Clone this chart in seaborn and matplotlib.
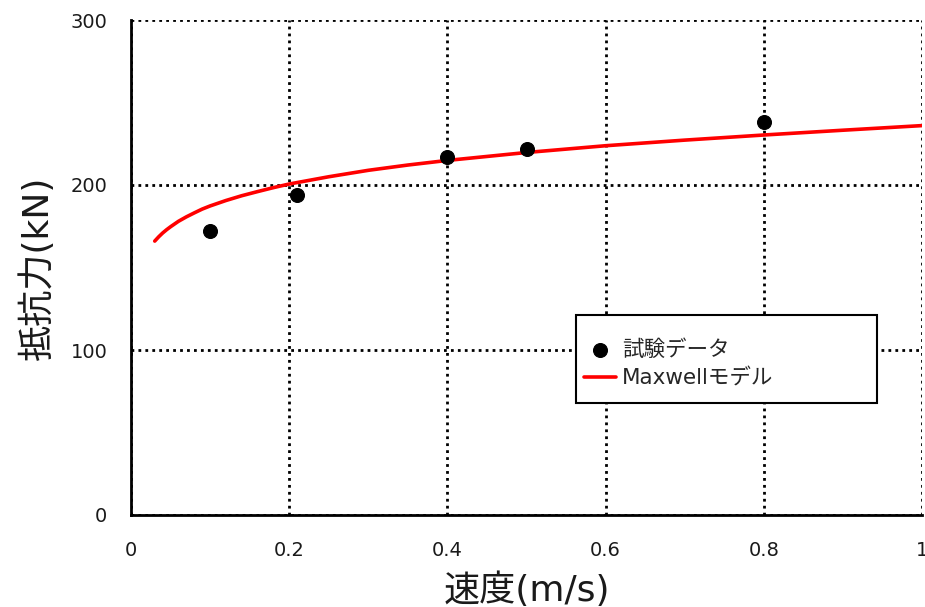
import matplotlib
matplotlib.use("Agg")
import matplotlib.pyplot as plt
from matplotlib.patches import Rectangle
import seaborn as sns
import pandas as pd

# Test data (試験データ)
test_speed = [0.1, 0.21, 0.4, 0.5, 0.8]
test_force = [172, 194, 217, 222, 238]

# Maxwell model curve
model_speed = [0.03, 0.035, 0.04, 0.045, 0.05, 0.06, 0.07, 0.08, 0.09, 0.1, 0.12, 0.14,
               0.16, 0.18, 0.2, 0.25, 0.3, 0.35, 0.4, 0.5, 0.6, 0.7, 0.8, 0.9, 1.0]
model_force = [166.0, 168.6, 170.9, 172.9, 174.7, 178.0, 180.7, 183.1, 185.4, 187.3, 190.6, 193.5,
               196.0, 198.4, 200.6, 205.0, 208.9, 212.1, 214.9, 219.7, 223.8, 227.2, 230.3, 233.2, 236.0]

x_ticks = [0, 0.2, 0.4, 0.6, 0.8, 1]
x_tick_labels = ["0", "0.2", "0.4", "0.6", "0.8", "1"]
y_ticks = [0, 100, 200, 300]

sns.set_style("white")
plt.rcParams['font.family'] = ['DejaVu Sans', 'Noto Sans CJK JP']

df_test = pd.DataFrame({"speed": test_speed, "force": test_force})
df_model = pd.DataFrame({"speed": model_speed, "force": model_force})

W, H = 925, 607
fig = plt.figure(figsize=(W / 100, H / 100), dpi=100)
L, R, T, B = 131, 922, 20, 515
ax = fig.add_axes([L / W, 1 - B / H, (R - L) / W, (B - T) / H])

sns.lineplot(data=df_model, x="speed", y="force", ax=ax, color="#ff0000", linewidth=2.6,
             label="Maxwellモデル", zorder=3)
sns.scatterplot(data=df_test, x="speed", y="force", ax=ax, color="black", s=100,
                edgecolor="black", label="試験データ", zorder=4)

ax.set_xlim(0, 1)
ax.set_ylim(0, 300)
ax.set_xticks(x_ticks)
ax.set_xticklabels(x_tick_labels)
ax.set_yticks(y_ticks)
ax.grid(True, color="black", linestyle=(0, (1, 1.5)), linewidth=2.0)
ax.set_axisbelow(True)

for s in ["top", "right"]:
    ax.spines[s].set_visible(False)
for s in ["left", "bottom"]:
    ax.spines[s].set_color("black")
    ax.spines[s].set_linewidth(2)

ax.tick_params(axis="x", labelsize=14, length=0, pad=19, colors="#1a1a1a")
ax.tick_params(axis="y", labelsize=14, length=0, pad=17, colors="#1a1a1a")
ax.set_xlabel("速度(m/s)", fontsize=26, labelpad=9, color="#1a1a1a")
ax.set_ylabel("抵抗力(kN)", fontsize=26, labelpad=11, color="#1a1a1a")


def px_to_ax(px, py):
    return (px - L) / (R - L), (B - py) / (B - T)


# Legend frame
x0, y0 = px_to_ax(576, 403)
x1, y1 = px_to_ax(877, 315)
ax.add_patch(Rectangle((x0, y0), x1 - x0, y1 - y0, transform=ax.transAxes,
                       facecolor="white", edgecolor="black", linewidth=1.5, zorder=5))

handles, labels = ax.get_legend_handles_labels()
order = [labels.index("試験データ"), labels.index("Maxwellモデル")]
leg = ax.legend([handles[i] for i in order], [labels[i] for i in order],
                loc="upper left", bbox_to_anchor=px_to_ax(584, 339),
                fontsize=15.5, frameon=False, borderpad=0, borderaxespad=0,
                handlelength=1.5, handletextpad=0.25, labelspacing=0.4)
leg.set_zorder(6)

fig.savefig("out.png", dpi=100)
